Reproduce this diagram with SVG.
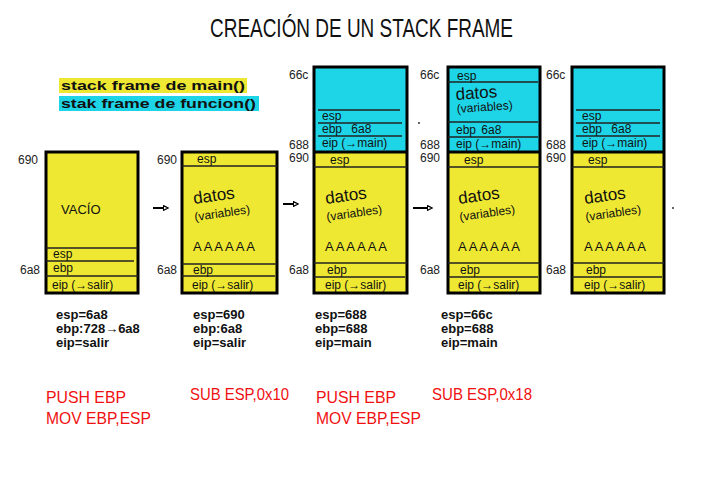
<svg xmlns="http://www.w3.org/2000/svg" width="702" height="496" viewBox="0 0 702 496">
<defs>
<style>
.y{fill:#EEE832;}
.c{fill:#1ED5E8;}
.bx{fill:none;stroke:#000;stroke-width:3;}
.ln{stroke:#222;stroke-width:1.3;}
.t{font-family:"Liberation Sans",Arial,sans-serif;fill:#111;}
.s{font-size:12px;}
.a{font-size:12px;fill:#222;}
.d{font-size:17px;}
.v{font-size:13px;}
.r{font-family:"Liberation Sans",Arial,sans-serif;fill:#F01010;font-size:17px;}
.k{font-size:13px;font-weight:bold;}
.con{stroke:#000;stroke-width:2;fill:none;}
</style>
<marker id="ah" viewBox="0 0 10 10" refX="2" refY="5" markerWidth="6" markerHeight="6" orient="auto" markerUnits="userSpaceOnUse">
<path d="M1,1 L9,5 L1,9 Z" fill="none" stroke="#000" stroke-width="2"/>
</marker>
</defs>
<rect width="702" height="496" fill="#fff"/>
<text class="t" x="210" y="37" font-size="26" textLength="303" lengthAdjust="spacingAndGlyphs">CREACIÓN DE UN STACK FRAME</text>
<g id="legend">
<rect class="y" x="59" y="78" width="188" height="15"/>
<rect class="c" x="59" y="96" width="200" height="15"/>
<text class="t k" x="61" y="90" textLength="184" lengthAdjust="spacingAndGlyphs">stack frame de main()</text>
<text class="t k" x="61" y="108" textLength="195" lengthAdjust="spacingAndGlyphs">stak frame de funcion()</text>
</g>
<g id="frame1">
<rect class="y" x="46" y="152" width="92" height="141"/>
<rect class="bx" x="46" y="152" width="92" height="141"/>
<line class="ln" x1="46" y1="248" x2="138" y2="248"/>
<line class="ln" x1="46" y1="261" x2="134" y2="261"/>
<line class="ln" x1="46" y1="276" x2="138" y2="276"/>
<text class="t v" x="61" y="214">VACÍO</text>
<text class="t s" x="53" y="258">esp</text>
<text class="t s" x="53" y="272">ebp</text>
<text class="t s" x="52" y="289">eip (→salir)</text>
<text class="t a" x="18" y="164">690</text>
<text class="t a" x="20" y="274">6a8</text>
</g>
<g id="frame2">
<rect class="y" x="182" y="152" width="95" height="141"/>
<rect class="bx" x="182" y="152" width="95" height="141"/>
<line class="ln" x1="182" y1="166" x2="277" y2="166"/>
<line class="ln" x1="182" y1="264" x2="277" y2="264"/>
<line class="ln" x1="182" y1="276" x2="275" y2="276"/>
<text class="t s" x="197" y="163">esp</text>
<text class="t d" x="194" y="204" transform="rotate(-8 194 204)">datos</text>
<text class="t s" x="195" y="221" transform="rotate(-8 195 221)">(variables)</text>
<text class="t v" x="193" y="251" letter-spacing="2">AAAAAA</text>
<text class="t s" x="193" y="274">ebp</text>
<text class="t s" x="192" y="289">eip (→salir)</text>
<text class="t a" x="157" y="164">690</text>
<text class="t a" x="157" y="274">6a8</text>
</g>
<g id="frame3">
<rect class="c" x="314" y="67" width="93" height="85"/>
<rect class="y" x="314" y="152" width="93" height="141"/>
<rect class="bx" x="314" y="67" width="93" height="226"/>
<line x1="314" y1="152" x2="407" y2="152" stroke="#000" stroke-width="3"/>
<line class="ln" x1="318" y1="110" x2="400" y2="110"/>
<line class="ln" x1="318" y1="123" x2="402" y2="123"/>
<line class="ln" x1="318" y1="136" x2="402" y2="136"/>
<text class="t s" x="322" y="120">esp</text>
<text class="t s" x="322" y="133">ebp <tspan dx="6">6a8</tspan></text>
<text class="t s" x="322" y="147">eip (→main)</text>
<line class="ln" x1="314" y1="167" x2="407" y2="167"/>
<line class="ln" x1="314" y1="263" x2="407" y2="263"/>
<line class="ln" x1="314" y1="277" x2="405" y2="277"/>
<text class="t s" x="330" y="164">esp</text>
<text class="t d" x="326" y="204" transform="rotate(-8 326 204)">datos</text>
<text class="t s" x="327" y="221" transform="rotate(-8 327 221)">(variables)</text>
<text class="t v" x="325" y="251" letter-spacing="2">AAAAAA</text>
<text class="t s" x="327" y="274">ebp</text>
<text class="t s" x="325" y="289">eip (→salir)</text>
<text class="t a" x="289" y="79">66c</text>
<text class="t a" x="289" y="149">688</text>
<text class="t a" x="289" y="162">690</text>
<text class="t a" x="289" y="274">6a8</text>
</g>
<g id="frame4">
<rect class="c" x="448" y="67" width="92" height="85"/>
<rect class="y" x="448" y="152" width="92" height="141"/>
<rect class="bx" x="448" y="67" width="92" height="226"/>
<line x1="448" y1="152" x2="540" y2="152" stroke="#000" stroke-width="3"/>
<line class="ln" x1="448" y1="82" x2="538" y2="82"/>
<line class="ln" x1="448" y1="122" x2="538" y2="122"/>
<line class="ln" x1="448" y1="137" x2="538" y2="137"/>
<text class="t s" x="457" y="80">esp</text>
<text class="t d" x="456" y="100" transform="rotate(-4 456 100)">datos</text>
<text class="t s" x="457" y="113" transform="rotate(-4 457 113)">(variables)</text>
<text class="t s" x="456" y="134">ebp <tspan dx="2">6a8</tspan></text>
<text class="t s" x="456" y="148">eip (→main)</text>
<line class="ln" x1="448" y1="167" x2="540" y2="167"/>
<line class="ln" x1="448" y1="263" x2="540" y2="263"/>
<line class="ln" x1="448" y1="277" x2="538" y2="277"/>
<text class="t s" x="464" y="164">esp</text>
<text class="t d" x="459" y="204" transform="rotate(-8 459 204)">datos</text>
<text class="t s" x="460" y="221" transform="rotate(-8 460 221)">(variables)</text>
<text class="t v" x="458" y="251" letter-spacing="2">AAAAAA</text>
<text class="t s" x="460" y="274">ebp</text>
<text class="t s" x="458" y="289">eip (→salir)</text>
<text class="t a" x="420" y="79">66c</text>
<text class="t a" x="420" y="149">688</text>
<text class="t a" x="420" y="162">690</text>
<text class="t a" x="420" y="274">6a8</text>
</g>
<g id="frame5">
<rect class="c" x="572" y="67" width="92" height="85"/>
<rect class="y" x="572" y="152" width="92" height="141"/>
<rect class="bx" x="572" y="67" width="92" height="226"/>
<line x1="572" y1="152" x2="664" y2="152" stroke="#000" stroke-width="3"/>
<line class="ln" x1="576" y1="110" x2="660" y2="110"/>
<line class="ln" x1="576" y1="123" x2="660" y2="123"/>
<line class="ln" x1="576" y1="136" x2="660" y2="136"/>
<text class="t s" x="582" y="120">esp</text>
<text class="t s" x="582" y="133">ebp <tspan dx="6">6a8</tspan></text>
<text class="t s" x="582" y="147">eip (→main)</text>
<line class="ln" x1="572" y1="167" x2="664" y2="167"/>
<line class="ln" x1="572" y1="263" x2="664" y2="263"/>
<line class="ln" x1="572" y1="277" x2="662" y2="277"/>
<text class="t s" x="588" y="164">esp</text>
<text class="t d" x="585" y="204" transform="rotate(-8 585 204)">datos</text>
<text class="t s" x="586" y="221" transform="rotate(-8 586 221)">(variables)</text>
<text class="t v" x="584" y="251" letter-spacing="2">AAAAAA</text>
<text class="t s" x="586" y="274">ebp</text>
<text class="t s" x="584" y="289">eip (→salir)</text>
<text class="t a" x="546" y="79">66c</text>
<text class="t a" x="546" y="149">688</text>
<text class="t a" x="546" y="162">690</text>
<text class="t a" x="546" y="274">6a8</text>
</g>
<g id="connectors">
<line class="con" x1="153" y1="208" x2="164" y2="208" marker-end="url(#ah)"/>
<line class="con" x1="283" y1="204" x2="294" y2="204" marker-end="url(#ah)"/>
<line class="con" x1="413" y1="208" x2="428" y2="208" marker-end="url(#ah)" stroke-width="2.5"/>
</g>
<circle cx="419" cy="123" r="1" fill="#333"/>
<circle cx="673" cy="208" r="1" fill="#333"/>
<g id="regs">
<text class="t k" x="56" y="319">esp=6a8</text>
<text class="t k" x="56" y="333">ebp:728→6a8</text>
<text class="t k" x="56" y="347">eip=salir</text>
<text class="t k" x="193" y="319">esp=690</text>
<text class="t k" x="193" y="333">ebp:6a8</text>
<text class="t k" x="193" y="347">eip=salir</text>
<text class="t k" x="315" y="319">esp=688</text>
<text class="t k" x="315" y="333">ebp=688</text>
<text class="t k" x="315" y="347">eip=main</text>
<text class="t k" x="441" y="319">esp=66c</text>
<text class="t k" x="441" y="333">ebp=688</text>
<text class="t k" x="441" y="347">eip=main</text>
</g>
<g id="ops">
<text class="r" x="46" y="403" textLength="80" lengthAdjust="spacingAndGlyphs">PUSH EBP</text>
<text class="r" x="46" y="424" textLength="105" lengthAdjust="spacingAndGlyphs">MOV EBP,ESP</text>
<text class="r" x="190" y="400" textLength="99" lengthAdjust="spacingAndGlyphs">SUB ESP,0x10</text>
<text class="r" x="316" y="403" textLength="80" lengthAdjust="spacingAndGlyphs">PUSH EBP</text>
<text class="r" x="316" y="424" textLength="105" lengthAdjust="spacingAndGlyphs">MOV EBP,ESP</text>
<text class="r" x="432" y="400" textLength="100" lengthAdjust="spacingAndGlyphs">SUB ESP,0x18</text>
</g>
</svg>
